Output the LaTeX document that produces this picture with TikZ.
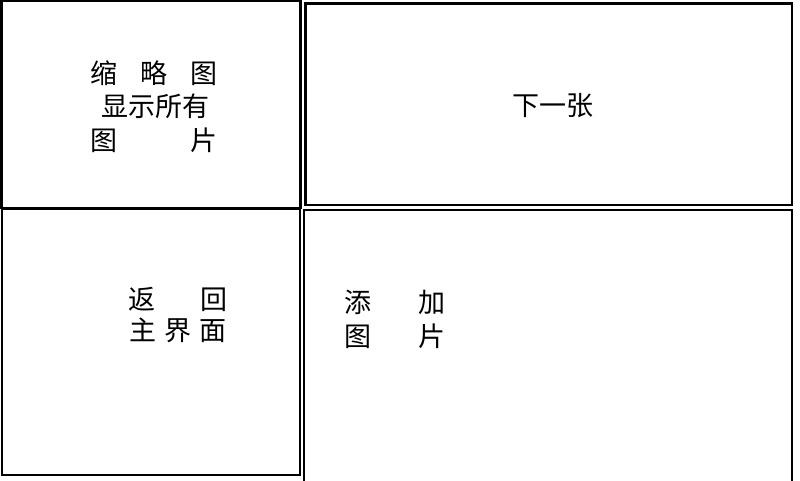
\documentclass[tikz,border=0pt]{standalone}
\usepackage{fontspec}
\newfontfamily\cjk{Noto Sans CJK SC}
\begin{document}
\begin{tikzpicture}[x=1pt,y=-1pt,
  panel/.style={draw=black,line width=2.2pt,fill=none,inner sep=0pt,outer sep=0pt,rectangle},
  lbl/.style={font=\cjk\fontsize{27}{27}\selectfont,inner sep=0pt,anchor=center,text=black}]
\useasboundingbox[fill=white] (0,0) rectangle (800,480);
% panels
\node[panel,minimum width=299pt,minimum height=207pt] (thumb) at (151,104.5) {};
\node[panel,minimum width=486.5pt,minimum height=201.5pt] (next) at (548.75,104.25) {};
\node[panel,minimum width=298.5pt,minimum height=266.5pt] (back) at (151,341.75) {};
\node[panel,minimum width=488pt,minimum height=282pt] (add) at (548,351) {};
% texts
\node[lbl] (t1a) at (154,73) {\makebox[128pt]{缩\hfill 略\hfill 图}};
\node[lbl] (t1b) at (155,106) {显示所有};
\node[lbl] (t1c) at (154,140) {\makebox[128pt]{图\hfill 片}};
\node[lbl] (t2) at (553,106) {下一张};
\node[lbl] (t3a) at (178,299) {\makebox[100pt]{返\hfill 回}};
\node[lbl] (t3b) at (178,330) {\makebox[98pt]{主\hfill 界\hfill 面}};
\node[lbl] (t4a) at (395,302) {\makebox[101pt]{添\hfill 加}};
\node[lbl] (t4b) at (395,336) {\makebox[101pt]{图\hfill 片}};
\end{tikzpicture}
\end{document}
